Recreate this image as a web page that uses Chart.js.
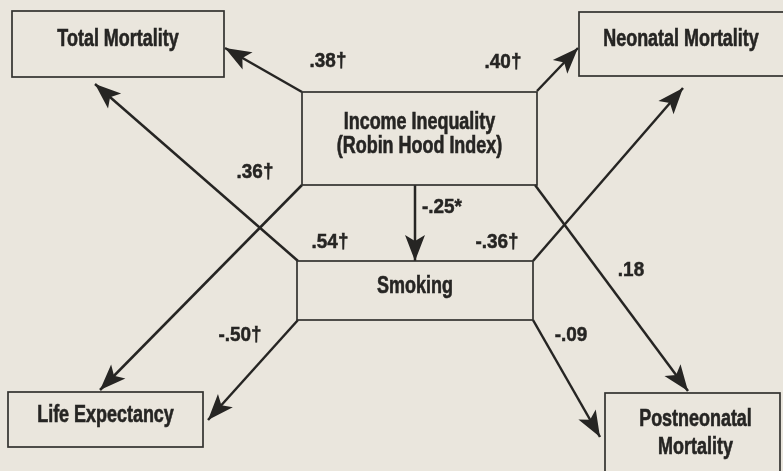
<!DOCTYPE html>
<html>
<head>
<meta charset="utf-8">
<script src="https://cdn.jsdelivr.net/npm/chart.js@4"></script>
<style>
    html, body { margin: 0; padding: 0; background: #eae6dd; }
    #wrap { width: 783px; height: 471px; position: relative; }
</style>
</head>
<body>
<div id="wrap"><canvas id="diagram"></canvas></div>
<script>
// variables in the path model
const nodeNames = ['Total Mortality', 'Neonatal Mortality', 'Income Inequality', 'Smoking', 'Life Expectancy', 'Postneonatal'];
const nodeLabels = [
    ['Total Mortality'],
    ['Neonatal Mortality'],
    ['Income Inequality', '(Robin Hood Index)'],
    ['Smoking'],
    ['Life Expectancy'],
    ['Postneonatal', 'Mortality']
];

// paths: from -> to, standardised coefficient
const pathFrom = ['Income Inequality', 'Income Inequality', 'Income Inequality', 'Income Inequality', 'Income Inequality',
    'Smoking', 'Smoking', 'Smoking', 'Smoking'];
const pathTo = ['Total Mortality', 'Neonatal Mortality', 'Smoking', 'Life Expectancy', 'Postneonatal',
    'Total Mortality', 'Neonatal Mortality', 'Life Expectancy', 'Postneonatal'];
const pathCoefficients = ['.38†', '.40†', '-.25*', '.36†', '.18', '.54†', '-.36†', '-.50†', '-.09'];

// layout (page units, y downwards)
const boxLayout = {
    'Total Mortality': [12, 11, 224, 77],
    'Neonatal Mortality': [579, 12, 790, 76],
    'Income Inequality': [302, 92, 537, 185],
    'Smoking': [297, 261, 533, 320],
    'Life Expectancy': [8, 392, 203, 447],
    'Postneonatal': [605, 393, 780, 490]
};
const pathLayout = [
    [302, 92, 225, 48],
    [537, 91, 578, 48],
    [415, 185, 415, 261],
    [302, 185, 100, 390],
    [535, 185, 688, 391],
    [298, 261, 95, 84],
    [533, 261, 683, 88],
    [298, 320, 208, 420],
    [533, 320, 600, 437]
];
const labelLayout = [
    [328, 61], [503, 62], [442, 207], [255, 172], [631, 270],
    [330, 242], [497, 242], [240, 335], [571, 335]
];

const ink = '#262523';
const paper = '#eae6dd';

const datasets = pathFrom.map((from, i) => {
    const p = pathLayout[i];
    return {
        label: from + ' → ' + pathTo[i] + ' ' + pathCoefficients[i],
        data: [{x: p[0], y: p[1]}, {x: p[2], y: p[3]}],
        showLine: true,
        borderColor: ink,
        borderWidth: 2.5,
        pointRadius: 0,
        clip: false
    };
});

function squeezedText(ctx, text, x, y, squeeze) {
    ctx.save();
    ctx.translate(x, y);
    ctx.scale(squeeze, 1);
    ctx.fillText(text, 0, 0);
    ctx.strokeText(text, 0, 0);
    ctx.restore();
}

const diagramPlugin = {
    id: 'diagram',
    beforeDraw(chart) {
        const ctx = chart.ctx;
        ctx.save();
        ctx.fillStyle = paper;
        ctx.fillRect(0, 0, chart.width, chart.height);
        ctx.restore();
    },
    afterDatasetsDraw(chart) {
        const ctx = chart.ctx;
        const xs = chart.scales.x;
        const ys = chart.scales.y;

        // boxes and their text
        ctx.save();
        nodeNames.forEach((name, i) => {
            const b = boxLayout[name];
            const x1 = xs.getPixelForValue(b[0]), y1 = ys.getPixelForValue(b[1]);
            const x2 = xs.getPixelForValue(b[2]), y2 = ys.getPixelForValue(b[3]);
            ctx.strokeStyle = '#33322f';
            ctx.lineWidth = 1.7;
            ctx.strokeRect(x1, y1, x2 - x1, y2 - y1);

            const lines = nodeLabels[i];
            const cx = (Math.min(x2, 783) + x1) / 2 + (name === 'Postneonatal' ? 3 : 0);
            const top = name === 'Postneonatal' ? y1 + 27 : (y1 + y2) / 2 - (lines.length - 1) * 12 - 4;
            ctx.fillStyle = ink;
            ctx.strokeStyle = ink;
            ctx.lineWidth = 0.6;
            ctx.font = 'bold 23px "Liberation Sans", Arial, sans-serif';
            ctx.textAlign = 'center';
            ctx.textBaseline = 'middle';
            lines.forEach((line, k) => {
                squeezedText(ctx, line, cx, top + k * (name === 'Postneonatal' ? 28 : 24), 0.78);
            });
        });

        // arrow heads
        datasets.forEach((ds) => {
            const a = ds.data[0], b = ds.data[1];
            const ax = xs.getPixelForValue(a.x), ay = ys.getPixelForValue(a.y);
            const bx = xs.getPixelForValue(b.x), by = ys.getPixelForValue(b.y);
            const ang = Math.atan2(by - ay, bx - ax);
            const len = 26, half = 10, notch = 20;
            ctx.save();
            ctx.translate(bx, by);
            ctx.rotate(ang);
            ctx.beginPath();
            ctx.moveTo(0, 0);
            ctx.lineTo(-len, -half);
            ctx.lineTo(-notch, 0);
            ctx.lineTo(-len, half);
            ctx.closePath();
            ctx.fillStyle = ink;
            ctx.fill();
            ctx.restore();
        });

        // coefficients
        ctx.fillStyle = ink;
        ctx.strokeStyle = ink;
        ctx.lineWidth = 0.5;
        ctx.font = 'bold 21px "Liberation Sans", Arial, sans-serif';
        ctx.textAlign = 'center';
        ctx.textBaseline = 'middle';
        pathCoefficients.forEach((c, i) => {
            const l = labelLayout[i];
            squeezedText(ctx, c, xs.getPixelForValue(l[0]), ys.getPixelForValue(l[1]), 0.9);
        });
        ctx.restore();
    }
};

new Chart(document.getElementById('diagram'), {
    type: 'scatter',
    data: {datasets: datasets},
    options: {
        responsive: true,
        maintainAspectRatio: false,
        animation: false,
        layout: {padding: 0},
        scales: {
            x: {type: 'linear', min: 0, max: 783, display: false},
            y: {type: 'linear', min: 0, max: 471, reverse: true, display: false}
        },
        plugins: {
            legend: {display: false},
            tooltip: {enabled: false}
        }
    },
    plugins: [diagramPlugin]
});
</script>
</body>
</html>
